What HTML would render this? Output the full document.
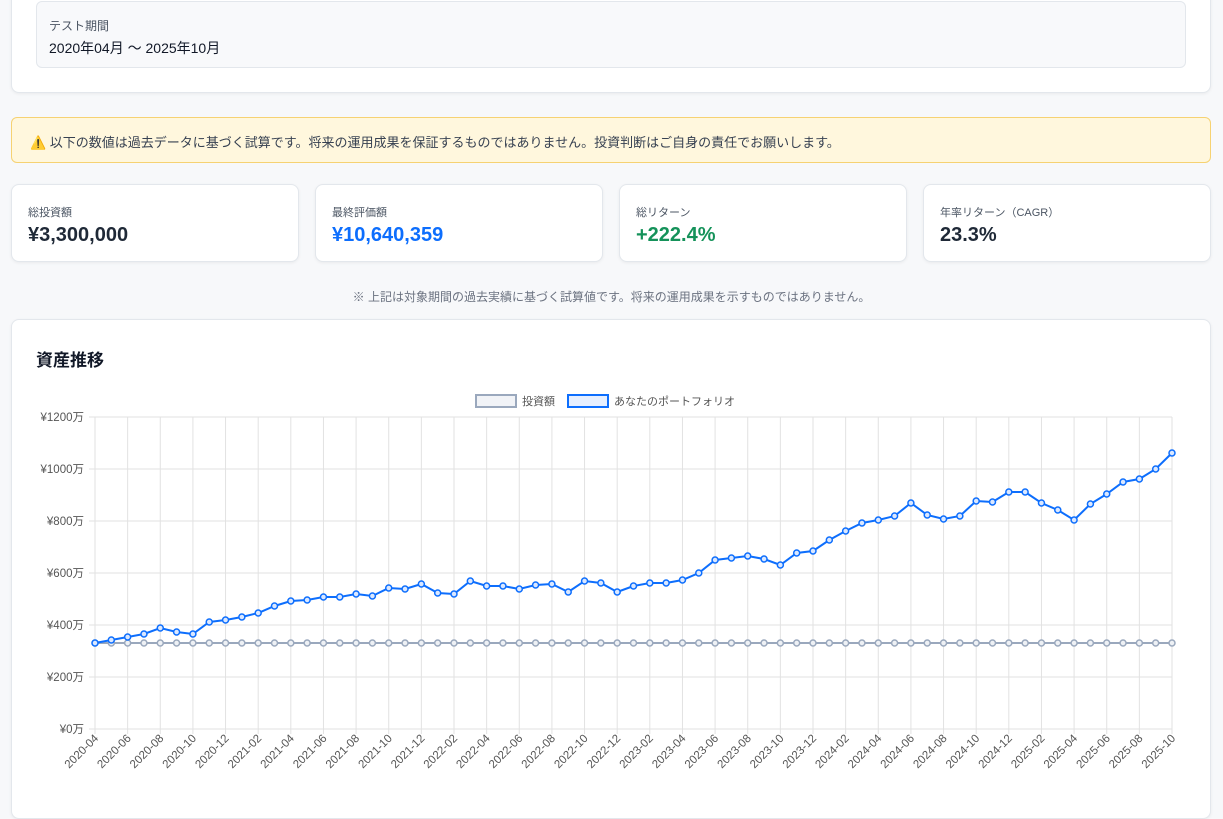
<!DOCTYPE html>
<html><head><meta charset="utf-8">
<style>
*{box-sizing:border-box;margin:0;padding:0}
body{width:1223px;height:799px;overflow:hidden;background:#f7f8fa;font-family:"Liberation Sans","Noto Sans CJK JP",sans-serif;color:#1f2937;position:relative}
.card{position:absolute;background:#fff;border:1px solid #e3e7ec;border-radius:8px;box-shadow:0 1px 3px rgba(0,0,0,.06)}
.lbl{font-size:11px;color:#4b5563}
.val{font-size:20px;font-weight:bold;margin-top:4px}
</style></head><body>
<div class="card" style="left:11px;top:-10px;width:1200px;height:103px"></div>
<div style="position:absolute;left:36px;top:1px;width:1150px;height:67px;background:#f8f9fb;border:1px solid #e3e7ec;border-radius:6px">
<div style="position:absolute;left:12px;top:15px;font-size:12px;color:#4b5563">テスト期間</div>
<div style="position:absolute;left:12px;top:36px;font-size:14px;color:#111827">2020年04月 〜 2025年10月</div>
</div>
<div style="position:absolute;left:11px;top:117px;width:1200px;height:46px;background:#fff7dd;border:1px solid #f6d272;border-radius:6px;font-size:13px;color:#374151;padding:14px 0 0 18px">⚠️ 以下の数値は過去データに基づく試算です。将来の運用成果を保証するものではありません。投資判断はご自身の責任でお願いします。</div>
<div class="card" style="left:11px;top:184px;width:288px;height:78px;padding:19px 16px"><div class="lbl">総投資額</div><div class="val">¥3,300,000</div></div>
<div class="card" style="left:315px;top:184px;width:288px;height:78px;padding:19px 16px"><div class="lbl">最終評価額</div><div class="val" style="color:#0d6efd">¥10,640,359</div></div>
<div class="card" style="left:619px;top:184px;width:288px;height:78px;padding:19px 16px"><div class="lbl">総リターン</div><div class="val" style="color:#15925a">+222.4%</div></div>
<div class="card" style="left:923px;top:184px;width:288px;height:78px;padding:19px 16px"><div class="lbl">年率リターン（CAGR）</div><div class="val">23.3%</div></div>
<div style="position:absolute;left:0;width:1223px;top:288px;text-align:center;font-size:12px;color:#6b7280">※ 上記は対象期間の過去実績に基づく試算値です。将来の運用成果を示すものではありません。</div>
<div class="card" style="left:11px;top:319px;width:1200px;height:500px"></div>
<div style="position:absolute;left:36px;top:346px;font-size:17px;font-weight:bold;color:#111827">資産推移</div>
<svg id="c" width="1223" height="799" style="position:absolute;left:0;top:0" font-family="Liberation Sans, Noto Sans CJK JP, sans-serif"></svg>
<script>
var ys=[643,640,637,634,628,632,634,622,620,617,613,606,601,600,597,597,594,596,588,589,584,593,594,581,586,586,589,585,584,592,581,583,592,586,583,583,580,573,560,558,556,559,565,553,551,540,531,523,520,516,503,515,519,516,501,502,492,492,503,510,520,504,494,482,479,469,453];
var x0=95,x1=1172,y0=729,yt=417,n=67,dx=(x1-x0)/66,s='';
for(var i=0;i<=6;i++){var y=y0-i*52;s+='<line x1="89" x2="'+x1+'" y1="'+y+'" y2="'+y+'" stroke="#e2e2e2"/>';s+='<text x="84" y="'+(y+4)+'" font-size="11.5" fill="#555" text-anchor="end">¥'+(i*200)+'万</text>';}
for(var i=0;i<n;i+=2){var x=x0+i*dx;s+='<line x1="'+x+'" x2="'+x+'" y1="'+yt+'" y2="'+(y0+5)+'" stroke="#e2e2e2"/>';var yr=2020+Math.floor((i+3)/12),m=(i+3)%12+1;var lab=yr+'-'+(m<10?'0':'')+m;s+='<text transform="translate('+(x+4)+','+(y0+10)+') rotate(-45)" font-size="11.5" fill="#555" text-anchor="end">'+lab+'</text>';}
var p1='',p2='';for(var i=0;i<n;i++){var x=x0+i*dx;p1+=x+','+643+' ';p2+=x+','+ys[i]+' ';}
s+='<polyline points="'+p1+'" fill="none" stroke="#9aa8bd" stroke-width="2"/>';
for(var i=0;i<n;i++)s+='<circle cx="'+(x0+i*dx)+'" cy="643" r="3" fill="#eef1f5" stroke="#9aa8bd" stroke-width="1.5"/>';
s+='<polyline points="'+p2+'" fill="none" stroke="#0d6efd" stroke-width="2"/>';
for(var i=0;i<n;i++)s+='<circle cx="'+(x0+i*dx)+'" cy="'+ys[i]+'" r="3" fill="#dbe8ff" stroke="#0d6efd" stroke-width="1.5"/>';
s+='<rect x="476" y="395" width="40" height="12" fill="#f1f3f7" stroke="#9aa8bd" stroke-width="2"/><text x="522" y="405" font-size="11" fill="#555">投資額</text>';
s+='<rect x="568" y="395" width="40" height="12" fill="#e6efff" stroke="#0d6efd" stroke-width="2"/><text x="614" y="405" font-size="11" fill="#555">あなたのポートフォリオ</text>';
document.getElementById('c').innerHTML=s;
</script>
</body></html>
